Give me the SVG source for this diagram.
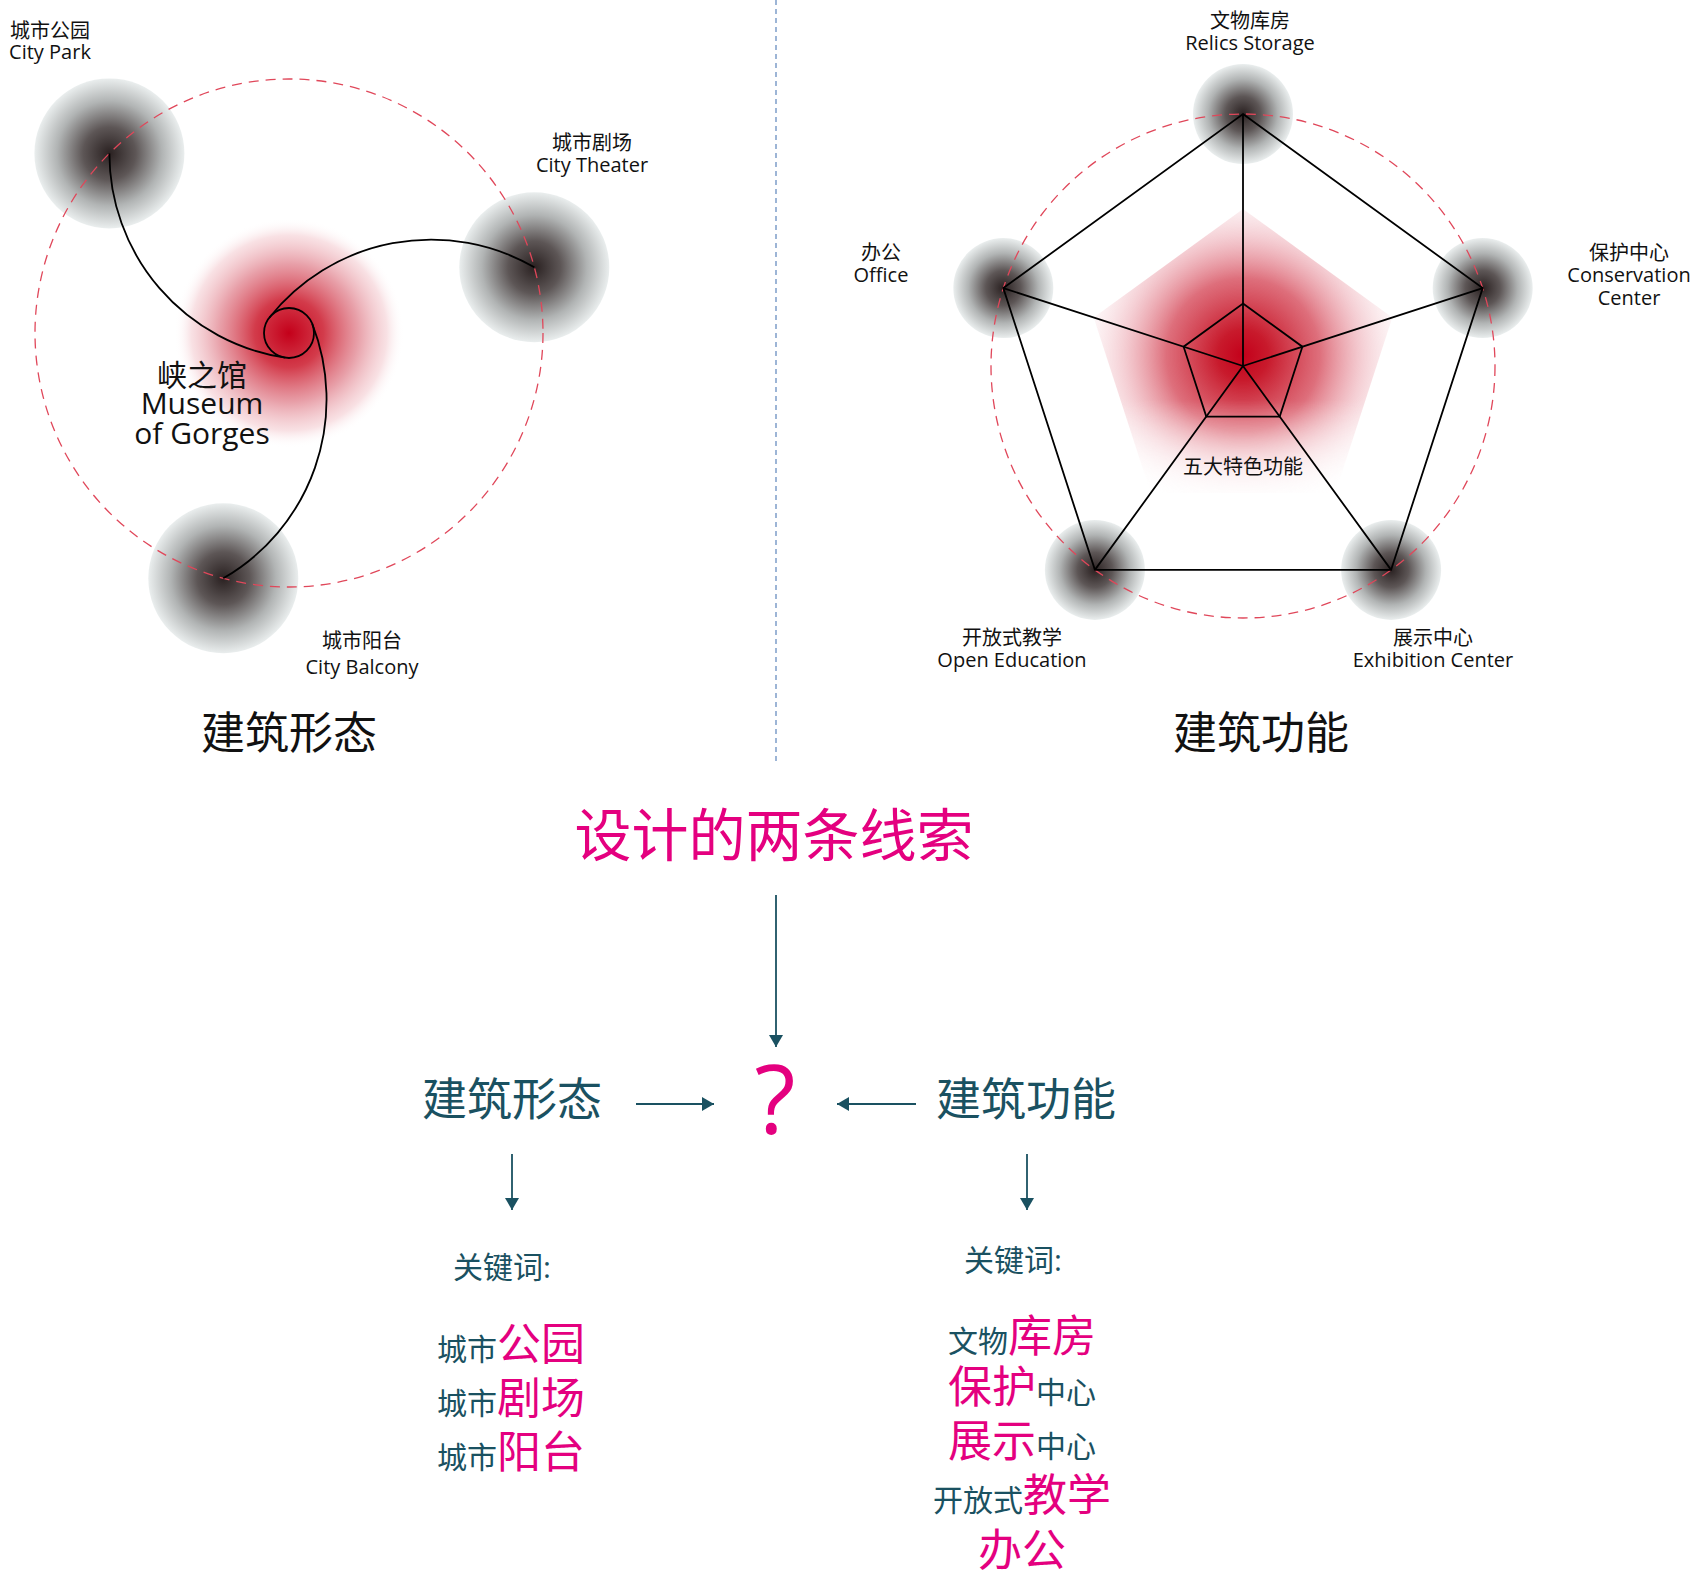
<svg xmlns="http://www.w3.org/2000/svg" width="1700" height="1577" viewBox="0 0 1700 1577">
<defs>
  <radialGradient id="gray">
    <stop offset="0" stop-color="#2a2121"/>
    <stop offset="0.35" stop-color="#5d5656"/>
    <stop offset="0.7" stop-color="#b1b4b4"/>
    <stop offset="1" stop-color="#eaeeee"/>
  </radialGradient>
  <radialGradient id="redL" cx="289" cy="333" r="115" gradientUnits="userSpaceOnUse">
    <stop offset="0" stop-color="#c4001a"/>
    <stop offset="0.3" stop-color="#cf2a3b" stop-opacity="0.92"/>
    <stop offset="0.6" stop-color="#e07f8b" stop-opacity="0.75"/>
    <stop offset="0.85" stop-color="#f2c3c9" stop-opacity="0.5"/>
    <stop offset="1" stop-color="#ffffff" stop-opacity="0"/>
  </radialGradient>
  <radialGradient id="redP" cx="1243" cy="355" r="170" gradientUnits="userSpaceOnUse">
    <stop offset="0" stop-color="#c4001a"/>
    <stop offset="0.15" stop-color="#c81a2c"/>
    <stop offset="0.45" stop-color="#d85564" stop-opacity="0.85"/>
    <stop offset="0.7" stop-color="#eca6b0" stop-opacity="0.55"/>
    <stop offset="0.88" stop-color="#f8dde1" stop-opacity="0.35"/>
    <stop offset="1" stop-color="#ffffff" stop-opacity="0"/>
  </radialGradient>
  <linearGradient id="fadeDown" x1="0" y1="400" x2="0" y2="505" gradientUnits="userSpaceOnUse">
    <stop offset="0" stop-color="#fff"/>
    <stop offset="1" stop-color="#000"/>
  </linearGradient>
  <mask id="pentMask" maskUnits="userSpaceOnUse" x="1080" y="200" width="330" height="310">
    <rect x="1080" y="200" width="330" height="310" fill="url(#fadeDown)"/>
  </mask>
  <marker id="ah" viewBox="0 0 12 14" refX="12" refY="7" markerWidth="12" markerHeight="14" markerUnits="userSpaceOnUse" orient="auto">
    <path d="M0,0 L12,7 L0,14 Z" fill="#1a5161"/>
  </marker>
</defs>
<style>
  text { font-family: "Open Sans", "Noto Sans CJK SC", sans-serif; }
  .lbl { font-size: 20px; fill: #111; text-anchor: middle; }
  .big { font-size: 30px; fill: #111; text-anchor: middle; }
  .title { font-size: 44px; fill: #111; text-anchor: middle; }
  .reddash { fill: none; stroke: #e0475a; stroke-width: 1.3; stroke-dasharray: 10 7; }
  .blk { fill: none; stroke: #000; stroke-width: 1.8; }
  .teal { fill: #1a5161; }
  .mag { fill: #e4007f; }
  .arrow { stroke: #1a5161; stroke-width: 1.8; fill: none; marker-end: url(#ah); }
  .s { font-size: 30px; }
  .l { font-size: 44px; }
</style>
<rect width="1700" height="1577" fill="#ffffff"/>

<line x1="776" y1="0" x2="776" y2="762" stroke="#9db5d6" stroke-width="2" stroke-dasharray="5 4"/>

<g id="form-diagram">
  <circle cx="289" cy="333" r="115" fill="url(#redL)"/>
  <circle cx="109.4" cy="153.4" r="75" fill="url(#gray)"/>
  <circle cx="534.3" cy="267.3" r="75" fill="url(#gray)"/>
  <circle cx="223.3" cy="578.3" r="75" fill="url(#gray)"/>
  <circle cx="289" cy="333" r="254" class="reddash"/>
  <circle cx="289" cy="333" r="25" class="blk"/>
  <path class="blk" d="M109.4,153.4 A206.6,206.6 0 0 0 285.3,357.7"/>
  <path class="blk" d="M109.4,153.4 A206.6,206.6 0 0 0 285.3,357.7" transform="rotate(120 289 333)"/>
  <path class="blk" d="M109.4,153.4 A206.6,206.6 0 0 0 285.3,357.7" transform="rotate(240 289 333)"/>
</g>
<g id="node-city-park"><text class="lbl" x="50" y="38">城市公园</text><text class="lbl" x="50" y="59">City Park</text></g>
<g id="node-city-theater"><text class="lbl" x="592" y="150">城市剧场</text><text class="lbl" x="592" y="172">City Theater</text></g>
<g id="node-city-balcony"><text class="lbl" x="362" y="648">城市阳台</text><text class="lbl" x="362" y="674">City Balcony</text></g>
<g id="node-museum"><text class="big" x="202" y="386">峡之馆</text><text class="big" x="202" y="414">Museum</text><text class="big" x="202" y="444">of Gorges</text></g>
<text class="title" x="289" y="749">建筑形态</text>

<g id="function-diagram">
  <polygon points="1243,209 1392.3,317.5 1335.3,493 1150.7,493 1093.7,317.5" fill="url(#redP)" mask="url(#pentMask)"/>
  <circle cx="1243" cy="114" r="50" fill="url(#gray)"/>
  <circle cx="1482.7" cy="288.1" r="50" fill="url(#gray)"/>
  <circle cx="1391.1" cy="569.9" r="50" fill="url(#gray)"/>
  <circle cx="1094.9" cy="569.9" r="50" fill="url(#gray)"/>
  <circle cx="1003.3" cy="288.1" r="50" fill="url(#gray)"/>
  <circle cx="1243" cy="366" r="252" class="reddash"/>
  <polygon class="blk" points="1243,114 1482.7,288.1 1391.1,569.9 1094.9,569.9 1003.3,288.1"/>
  <polygon class="blk" points="1243,303.5 1302.4,346.7 1279.7,416.6 1206.3,416.6 1183.6,346.7"/>
  <path class="blk" d="M1243,366 L1243,114 M1243,366 L1482.7,288.1 M1243,366 L1391.1,569.9 M1243,366 L1094.9,569.9 M1243,366 L1003.3,288.1"/>
  <text class="lbl" x="1243" y="474">五大特色功能</text>
</g>
<g id="node-relics"><text class="lbl" x="1250" y="28">文物库房</text><text class="lbl" x="1250" y="50">Relics Storage</text></g>
<g id="node-office"><text class="lbl" x="881" y="260">办公</text><text class="lbl" x="881" y="282">Office</text></g>
<g id="node-conservation"><text class="lbl" x="1629" y="260">保护中心</text><text class="lbl" x="1629" y="282">Conservation</text><text class="lbl" x="1629" y="305">Center</text></g>
<g id="node-open-education"><text class="lbl" x="1012" y="645">开放式教学</text><text class="lbl" x="1012" y="667">Open Education</text></g>
<g id="node-exhibition"><text class="lbl" x="1433" y="645">展示中心</text><text class="lbl" x="1433" y="667">Exhibition Center</text></g>
<text class="title" x="1261" y="749">建筑功能</text>

<g id="node-clues"><text class="mag" x="774" y="856" font-size="57" text-anchor="middle">设计的两条线索</text></g>
<g id="node-question"><text class="mag" x="775" y="1134" font-size="95" text-anchor="middle">?</text></g>
<g id="node-form"><text class="teal" x="512" y="1116" font-size="45" text-anchor="middle">建筑形态</text></g>
<g id="node-function"><text class="teal" x="1026" y="1116" font-size="45" text-anchor="middle">建筑功能</text></g>

<g id="connectors">
  <line class="arrow" x1="776" y1="895" x2="776" y2="1047"/>
  <line class="arrow" x1="636" y1="1104" x2="714" y2="1104"/>
  <line class="arrow" x1="916" y1="1104" x2="837" y2="1104"/>
  <line class="arrow" x1="512" y1="1154" x2="512" y2="1210"/>
  <line class="arrow" x1="1027" y1="1154" x2="1027" y2="1210"/>
</g>

<g id="keywords-form">
  <text class="teal" x="502" y="1278" font-size="30" text-anchor="middle">关键词:</text>
  <text x="511" y="1360" text-anchor="middle"><tspan class="teal s">城市</tspan><tspan class="mag l">公园</tspan></text>
  <text x="511" y="1414" text-anchor="middle"><tspan class="teal s">城市</tspan><tspan class="mag l">剧场</tspan></text>
  <text x="511" y="1468" text-anchor="middle"><tspan class="teal s">城市</tspan><tspan class="mag l">阳台</tspan></text>
</g>
<g id="keywords-function">
  <text class="teal" x="1013" y="1271" font-size="30" text-anchor="middle">关键词:</text>
  <text x="1022" y="1352" text-anchor="middle"><tspan class="teal s">文物</tspan><tspan class="mag l">库房</tspan></text>
  <text x="1022" y="1403" text-anchor="middle"><tspan class="mag l">保护</tspan><tspan class="teal s">中心</tspan></text>
  <text x="1022" y="1457" text-anchor="middle"><tspan class="mag l">展示</tspan><tspan class="teal s">中心</tspan></text>
  <text x="1022" y="1511" text-anchor="middle"><tspan class="teal s">开放式</tspan><tspan class="mag l">教学</tspan></text>
  <text x="1022" y="1566" text-anchor="middle"><tspan class="mag l">办公</tspan></text>
</g>
</svg>
